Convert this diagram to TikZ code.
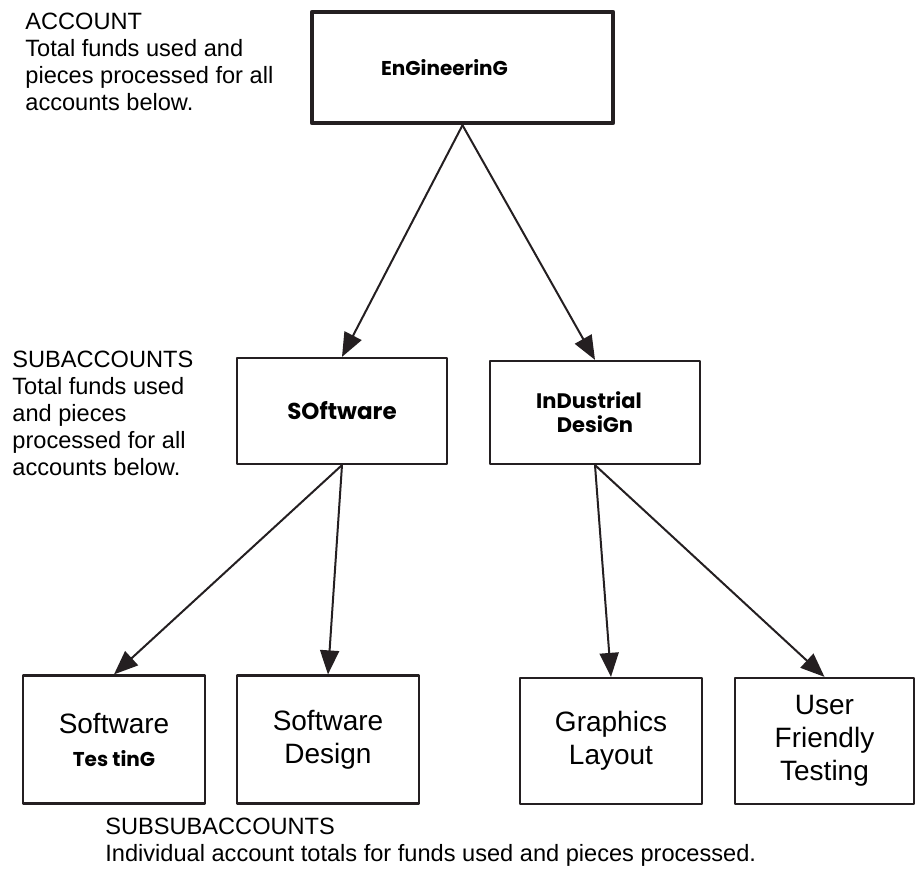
\documentclass[tikz,border=0pt]{standalone}
\usepackage{fontspec}
\setmainfont{Liberation Sans}
\newfontfamily\handfont{Poppins}
\usepackage{tikz}
\usetikzlibrary{arrows.meta}
\definecolor{wqwqwq}{rgb}{0.14,0.12,0.13}
\newcommand{\hand}[1]{{\handfont\bfseries #1}}

\begin{document}
\begin{tikzpicture}[line cap=round,line join=round,>={Triangle[length=12pt,width=9.5pt]},x=0.5pt,y=-0.5pt,
  topbox/.style={draw=wqwqwq,line width=2.2pt,minimum width=150.5pt,minimum height=55.5pt,inner sep=0pt},
  subbox/.style={draw=wqwqwq,line width=1.1pt,minimum width=105pt,minimum height=53pt,inner sep=0pt,align=center},
  leafbox/.style={draw=wqwqwq,line width=1.1pt,minimum width=91pt,minimum height=64pt,inner sep=0pt,align=center,
    font=\fontsize{14}{16.5}\selectfont},
  note/.style={anchor=north west,inner sep=0pt,align=left,font=\fontsize{11.8}{13.5}\selectfont},
  link/.style={->,draw=wqwqwq,line width=1pt}]

\useasboundingbox (0,0) rectangle (918,870);

% account
\node[topbox] (eng) at (462.5,67.5) {\fontsize{10}{12}\selectfont\hand{EnGineerinG}\hspace*{18pt}};
% subaccounts
\node[subbox] (soft) at (342,411) {\fontsize{11.5}{13}\selectfont\hand{SOftware}};
\node[subbox,minimum height=51.5pt,font=\fontsize{10.5}{12}\selectfont] (ind) at (595,412.5) {\hand{InDustrial}\hspace*{6pt}\\\hand{DesiGn}};
% subsubaccounts
\node[leafbox] (swtest) at (114,739.5) {Software\\{\fontsize{10}{12}\selectfont\hand{Tes tinG}}};
\node[leafbox] (swdes) at (328,739.5) {Software\\Design};
\node[leafbox,minimum height=63pt] (gfx) at (611,741) {Graphics\\Layout};
\node[leafbox,minimum width=89.5pt,minimum height=63pt] (usr) at (824.5,741) {User\\Friendly\\Testing};

\draw[link] (eng.south) -- (soft.north);
\draw[link] (eng.south) -- (ind.north);
\draw[link] (soft.south) -- (swtest.north);
\draw[link] (soft.south) -- (swdes.north);
\draw[link] (ind.south) -- (gfx.north);
\draw[link] (ind.south) -- (usr.north);

% side notes
\node[note] (acctnote) at (25,13) {ACCOUNT\\Total funds used and\\pieces processed for all\\accounts below.};
\node[note] (subnote) at (12,351) {SUBACCOUNTS\\Total funds used\\and pieces\\processed for all\\accounts below.};
\node[note] (subsubnote) at (105,818) {SUBSUBACCOUNTS\\Individual account totals for funds used and pieces processed.};

\end{tikzpicture}
\end{document}
